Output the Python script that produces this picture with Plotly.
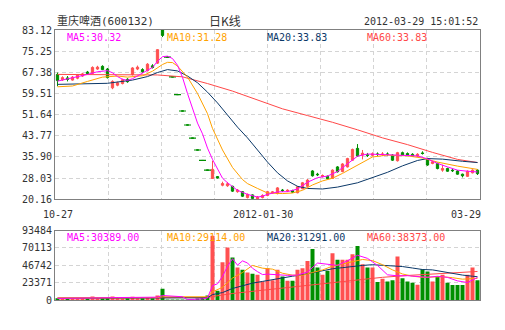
import plotly.graph_objects as go

# ---------------- data ----------------
idx = list(range(85))  # trading-day index, 2011-10-27 .. 2012-03-29

opens = [66.6, 64.6, 65.3, 64.5, 65.2, 66.0, 67.5, 67.0, 68.6, 69.6,
         68.6, 61.6, 62.6, 63.2, 64.8, 66.6, 68.6, 68.4, 68.0, 69.8,
         70.8, 83.12, 73.0, 65.7, 59.1, 53.0, 47.8, 42.9, 38.5, 34.6,
         31.0, 27.9, 28.6, 25.4, 25.2, 25.0, 23.0, 23.0, 20.8, 21.8,
         20.3, 20.8, 21.6, 22.5, 22.3, 23.6, 23.3, 23.4, 22.6, 24.1,
         25.0, 30.7, 29.5, 28.6, 28.7, 27.9, 32.2, 30.5, 32.2, 34.7,
         39.1, 36.6, 36.7, 36.5, 37.0, 36.8, 37.0, 36.6, 34.5, 37.5,
         37.2, 36.9, 36.2, 37.4, 35.3, 33.5, 33.5, 31.0, 31.6, 31.0,
         30.7, 29.5, 28.7, 30.0, 31.0]
closes = [64.3, 65.4, 64.7, 65.6, 66.3, 66.8, 66.9, 69.2, 69.3, 68.4,
          65.4, 64.0, 63.5, 64.6, 63.9, 69.0, 69.3, 67.6, 70.4, 69.2,
          75.8, 81.1, 73.0, 65.7, 59.1, 53.0, 47.8, 42.9, 38.5, 34.6,
          31.0, 31.3, 28.1, 26.0, 25.9, 23.2, 23.6, 21.3, 22.0, 20.5,
          21.0, 21.6, 23.0, 22.9, 24.4, 23.4, 23.5, 22.8, 24.8, 26.3,
          27.3, 28.9, 29.3, 29.0, 27.8, 31.0, 30.4, 33.3, 35.3, 38.7,
          36.3, 37.3, 36.5, 37.1, 36.9, 37.0, 36.9, 34.7, 37.5, 36.6,
          36.6, 36.2, 36.9, 37.2, 32.9, 34.1, 31.6, 31.6, 30.6, 30.8,
          29.5, 28.9, 30.6, 31.0, 29.7]
highs = [67.3, 65.9, 66.0, 66.0, 66.6, 67.2, 67.9, 69.6, 69.8, 70.0,
         69.0, 64.4, 63.9, 65.0, 65.2, 69.3, 69.9, 68.9, 70.8, 70.4,
         76.0, 83.12, 73.0, 65.7, 59.1, 53.0, 47.8, 42.9, 38.5, 34.6,
         31.0, 34.5, 28.8, 26.7, 26.6, 25.2, 24.0, 23.2, 22.3, 22.0,
         21.4, 22.0, 23.3, 23.2, 24.7, 24.0, 23.9, 23.7, 25.1, 26.6,
         27.7, 31.0, 30.0, 29.4, 29.0, 31.3, 32.5, 33.6, 35.6, 39.0,
         40.7, 38.5, 37.4, 37.6, 37.6, 37.7, 37.6, 37.0, 37.8, 37.9,
         37.6, 37.3, 37.3, 38.0, 35.6, 34.4, 33.8, 33.0, 31.9, 31.4,
         31.0, 29.7, 30.9, 31.3, 31.3]
lows = [62.2, 64.2, 64.0, 64.3, 64.8, 65.7, 66.5, 66.8, 68.3, 68.2,
        65.1, 61.1, 62.2, 62.9, 63.5, 66.2, 68.2, 67.2, 67.7, 68.8,
        70.5, 80.5, 73.0, 65.7, 59.1, 53.0, 47.8, 42.9, 38.5, 34.6,
        31.0, 27.9, 27.9, 25.0, 24.8, 22.9, 22.6, 21.0, 20.5, 20.3,
        20.16, 20.5, 21.3, 22.3, 22.0, 22.9, 22.9, 22.5, 22.4, 23.9,
        24.8, 28.6, 28.8, 28.3, 27.5, 27.7, 30.1, 30.2, 32.0, 34.5,
        36.0, 35.0, 35.9, 36.2, 36.3, 36.3, 36.4, 34.4, 34.2, 36.3,
        36.3, 35.9, 35.9, 36.8, 32.6, 33.2, 31.3, 30.4, 30.4, 30.3,
        29.3, 28.3, 28.5, 29.8, 29.2]
volumes = [2200, 1600, 1900, 2400, 2100, 2600, 2300, 4800, 2500, 2200,
           2700, 4800, 2300, 2000, 2500, 4500, 2400, 2200, 3800, 2300,
           6000, 15000, 300, 250, 300, 350, 400, 500, 900, 3000,
           6000, 86500, 12500, 50900, 70500, 57100, 43700, 40600, 37000, 35300,
           33900, 24900, 42800, 26700, 40600, 31600, 26000, 25800, 40600, 42800,
           52600, 68700, 43700, 33900, 39300, 62900, 54000, 54000, 54000, 61600,
           72700, 48200, 43700, 43700, 24100, 28500, 24900, 26700, 58400, 29400,
           24900, 23200, 20500, 41500, 38300, 24900, 31600, 33900, 23200, 20100,
           20100, 20100, 33900, 43700, 26700]

# price moving averages
ma5_x = [0, 2, 4, 6, 8,
         10, 11, 12, 13, 14, 15, 16, 17, 18, 19, 20, 21, 22, 23, 24, 25, 26, 27, 28, 29, 30, 31, 32, 33, 34,
         36, 38, 40, 41, 42,
         44, 46, 48, 50, 52, 54, 56, 58, 60, 62, 64, 66, 68, 70, 72, 74, 76, 78, 80, 82, 84]
ma5_y = [64.1, 64.9, 65.8, 66.6, 67.6,
         68.0, 67.2, 65.8, 64.8, 64.4, 65.0, 66.0, 67.0, 68.0, 69.2, 71.5, 73.2, 73.4, 72.5, 70.0,
         65.5, 59.5, 53.8, 48.5, 44.5, 39.2, 35.0, 31.5, 28.0, 26.3,
         23.5, 22.0, 21.0, 21.3, 22.0,
         22.9, 23.0, 24.0, 26.5, 28.2, 28.8, 30.5, 33.5, 36.2, 37.0, 36.9, 36.7, 36.6, 36.5, 36.3,
         35.2, 33.5, 32.2, 31.0, 30.6, 30.32]
ma10_x = [0, 3, 6, 9, 12, 14, 17, 19, 21, 22, 23, 24, 26, 28, 30, 31, 33, 35, 37, 38,
          40, 42, 45, 47, 49, 51, 53, 55, 57, 60, 63, 66, 70, 73, 76, 80, 84]
ma10_y = [62.0, 62.3, 64.0, 65.6, 66.0, 65.6, 66.1, 67.8, 70.3, 71.1,
          71.0, 69.7, 65.6, 59.5, 52.0, 46.5, 38.5, 32.0, 27.5, 26.0,
          24.2, 22.5, 22.3, 22.5, 23.5, 25.5, 27.0, 28.0, 29.8, 33.0,
          35.9, 36.6, 36.3, 35.5, 34.0, 32.5, 31.28]
ma20_x = [0, 5, 10, 15, 18, 20, 22, 24, 26, 28, 30, 32, 34, 36, 38, 40,
          42, 44, 46, 48, 50, 53, 56, 60, 63, 66, 69, 72, 74, 77, 81, 84]
ma20_y = [62.9, 63.0, 63.3, 64.5, 65.8, 67.3, 68.4, 67.9, 66.0, 63.5,
          60.0, 56.0, 51.5, 47.0, 43.0, 38.5, 34.0, 30.0, 27.0, 25.0,
          24.2, 24.0, 24.7, 26.3, 28.2, 30.2, 32.6, 34.6, 35.3, 35.1, 34.3, 33.83]
ma60_x = [0, 10, 20, 25, 30, 35, 40, 45, 50, 55, 60, 65, 70, 75, 80, 84]
ma60_y = [66.6, 66.5, 66.4, 65.7, 63.2, 60.4, 57.2, 53.8, 51.3, 48.8, 46.0, 43.0, 40.5, 37.6, 35.0, 33.83]

# volume moving averages
vma5_x = [0, 4, 8, 12, 16, 19, 20, 21, 22, 23, 24, 25, 26, 27, 28, 29, 30, 31, 32, 33, 34, 35, 36,
          37, 38, 39, 40, 41, 42, 44, 46, 48, 50, 52, 54, 56, 58, 60, 62, 64, 66, 68, 70,
          72, 74, 76, 78, 80, 82, 84]
vma5_y = [2200, 2000, 2800, 3300, 3100, 3100, 3800, 6000, 5700, 5600, 5200, 4400, 500, 500,
          900, 1500, 2800, 19400, 21800, 31800, 45300, 55500, 46900,
          52600, 49800, 42700, 38100, 34200, 34800, 33800, 33100, 33500, 37700, 49700, 47600,
          46500, 52800, 60200, 56000, 46500, 33900, 32500, 32700,
          31600, 30500, 31900, 30400, 25700, 23500, 30389]
vma10_x = [0, 10, 20, 21, 25, 30, 31, 33, 35, 37, 39, 41, 43, 45, 47, 49, 51, 53, 55, 57,
           59, 61, 63, 65, 67, 69, 71, 73, 75, 77, 79, 81, 84]
vma10_y = [2600, 2800, 3200, 4400, 4400, 4300, 11000, 17000, 29500, 37000, 46500, 42800,
           41500, 36000, 33400, 33300, 37000, 40400, 45500, 49000,
           51500, 54500, 53000, 47500, 40500, 35000, 32000, 30500, 31000, 31300, 30000, 28000, 29114]
vma20_x = [0, 10, 20, 25, 30, 31, 33, 35, 37, 39, 41, 43, 45, 47, 49, 51, 53, 55, 57, 59,
           61, 63, 65, 67, 69, 71, 73, 75, 77, 79, 81, 83, 84]
vma20_y = [2300, 2400, 2800, 3200, 3000, 7300, 10000, 15500, 19000, 22700, 25000, 27500,
           30500, 32000, 34000, 37000, 39500, 42000, 43500, 45500,
           46500, 47500, 47000, 46000, 45000, 43000, 41000, 40500, 38000, 35500, 33500, 32000, 31291]
vma60_x = [0, 10, 20, 30, 31, 35, 40, 45, 50, 55, 60, 65, 70, 75, 80, 84]
vma60_y = [2800, 2900, 3100, 3300, 4700, 8700, 12400, 16000, 19500, 23500, 27500, 30500,
           33000, 35000, 37000, 38373]

price_ticks = [20.16, 28.03, 35.90, 43.77, 51.64, 59.51, 67.38, 75.25, 83.12]
vol_ticks = [0, 23371, 46742, 70113, 93484]
date_idx = [0, 41, 84]
date_labels = ["10-27", "2012-01-30", "03-29"]

title_text = "重庆啤酒(600132)"
kline_text = "日K线"
time_text = "2012-03-29 15:01:52"
price_legend = ["MA5:30.32", "MA10:31.28", "MA20:33.83", "MA60:33.83"]
vol_legend = ["MA5:30389.00", "MA10:29114.00", "MA20:31291.00", "MA60:38373.00"]

# ---------------- styling ----------------
W, H = 505, 330
ML, MR, MT, MB = 55, 25, 30, 30
RED = "#ff5050"
GREEN = "#008f00"
C_MA5 = "#ff00ff"
C_MA10 = "#ffa200"
C_MA20 = "#0b3868"
C_MA60 = "#ff4848"
GRID = "#d4d4d4"
AXC = "#808080"
TXT = "#333333"
MONO = "DejaVu Sans Mono, Noto Sans CJK SC, monospace"


def px_x(x):
    return (x - ML) / (W - ML - MR)


def px_y(y):
    return (H - MB - y) / (H - MT - MB)


# direction of each day (red = up, green = down)
up_flags = []
prev = None
for o, c in zip(opens, closes):
    if c > o:
        up = True
    elif c < o:
        up = False
    else:
        up = prev is not None and c >= prev
    up_flags.append(up)
    prev = c
vol_colors = [RED if u else GREEN for u in up_flags]

# one-price days (limit moves) are drawn as short dashes
flat_x = [i for i in idx if highs[i] == lows[i]]
flat_y = [closes[i] for i in flat_x]
flat_c = [vol_colors[i] for i in flat_x]

fig = go.Figure()

fig.add_trace(go.Candlestick(
    x=idx, open=opens, high=highs, low=lows, close=closes,
    increasing=dict(line=dict(color=RED, width=1), fillcolor=RED),
    decreasing=dict(line=dict(color=GREEN, width=1), fillcolor=GREEN),
    whiskerwidth=0, xaxis="x", yaxis="y", hoverinfo="skip", showlegend=False))

fig.add_trace(go.Scatter(x=flat_x, y=flat_y, mode="markers",
                         marker=dict(symbol="line-ew", size=5, line=dict(color=flat_c, width=1.2)),
                         xaxis="x", yaxis="y", hoverinfo="skip", showlegend=False))

for xs, ys, col in [(ma60_x, ma60_y, C_MA60), (ma20_x, ma20_y, C_MA20),
                    (ma10_x, ma10_y, C_MA10), (ma5_x, ma5_y, C_MA5)]:
    fig.add_trace(go.Scatter(x=xs, y=ys, mode="lines", line=dict(color=col, width=1),
                             xaxis="x", yaxis="y", hoverinfo="skip", showlegend=False))

fig.add_trace(go.Bar(x=idx, y=volumes, marker=dict(color=vol_colors, line=dict(width=0)),
                     width=0.8, xaxis="x2", yaxis="y2", hoverinfo="skip", showlegend=False))

for xs, ys, col in [(vma60_x, vma60_y, C_MA60), (vma20_x, vma20_y, C_MA20),
                    (vma10_x, vma10_y, C_MA10), (vma5_x, vma5_y, C_MA5)]:
    fig.add_trace(go.Scatter(x=xs, y=ys, mode="lines", line=dict(color=col, width=1),
                             xaxis="x2", yaxis="y2", hoverinfo="skip", showlegend=False))

xcommon = dict(range=[-0.5, 84.5], showticklabels=False, ticks="", tick0=-0.5, dtick=85 / 8,
               showgrid=True, gridcolor=GRID, griddash="4px,3px", gridwidth=1,
               showline=True, mirror=True, linecolor=AXC, linewidth=1, zeroline=False,
               fixedrange=True)
ycommon = dict(showgrid=True, gridcolor=GRID, griddash="4px,3px", gridwidth=1,
               showline=True, mirror=True, linecolor=AXC, linewidth=1, zeroline=False,
               ticks="", tickfont=dict(family=MONO, size=10, color=TXT), fixedrange=True)

fig.update_layout(
    width=W, height=H, margin=dict(l=ML, r=MR, t=MT, b=MB, pad=0),
    paper_bgcolor="white", plot_bgcolor="white", showlegend=False, boxgap=0.35,
    xaxis=dict(domain=[0, 1], anchor="y", rangeslider=dict(visible=False), **xcommon),
    xaxis2=dict(domain=[0, 1], anchor="y2", matches="x", **xcommon),
    yaxis=dict(domain=[px_y(199.3), 1], anchor="x", range=[price_ticks[0], price_ticks[-1]],
               tickvals=price_ticks, ticktext=[f"{v:.2f}" for v in price_ticks], **ycommon),
    yaxis2=dict(domain=[0, px_y(230.5)], anchor="x2", range=[vol_ticks[0], vol_ticks[-1]],
                tickvals=vol_ticks, ticktext=[str(v) for v in vol_ticks], **ycommon),
)

ann = []
ann.append(dict(text=title_text, x=0, y=px_y(21), xref="paper", yref="paper",
                xanchor="left", yanchor="middle", showarrow=False,
                font=dict(family=MONO, size=11, color=TXT)))
ann.append(dict(text=kline_text, x=px_x(225), y=px_y(21), xref="paper", yref="paper",
                xanchor="center", yanchor="middle", showarrow=False,
                font=dict(family="Noto Sans CJK SC", size=12, color=TXT)))
ann.append(dict(text=time_text, x=px_x(480), y=px_y(21.5), xref="paper", yref="paper",
                xanchor="right", yanchor="middle", showarrow=False,
                font=dict(family=MONO, size=10, color=TXT)))
leg_cols = [C_MA5, C_MA10, C_MA20, C_MA60]
leg_x = [65, 165, 265, 365]
for t, c, lx in zip(price_legend, leg_cols, leg_x):
    ann.append(dict(text=t, x=px_x(lx), y=px_y(37.5), xref="paper", yref="paper",
                    xanchor="left", yanchor="middle", showarrow=False,
                    font=dict(family=MONO, size=10, color=c)))
for t, c, lx in zip(vol_legend, leg_cols, leg_x):
    ann.append(dict(text=t, x=px_x(lx), y=px_y(237.5), xref="paper", yref="paper",
                    xanchor="left", yanchor="middle", showarrow=False,
                    font=dict(family=MONO, size=10, color=c)))
for i, (di, dl) in enumerate(zip(date_idx, date_labels)):
    last = i == len(date_idx) - 1
    ann.append(dict(text=dl, x=(84.5 if last else di), y=px_y(215), xref="x", yref="paper",
                    xanchor=("right" if last else "center"), xshift=(3 if last else 0),
                    yanchor="middle", showarrow=False,
                    font=dict(family=MONO, size=10, color=TXT)))
fig.update_layout(annotations=ann)

fig.write_html("out.html")
